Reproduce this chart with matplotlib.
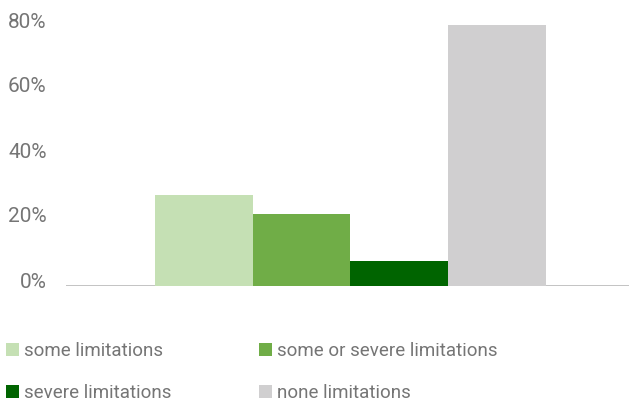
import matplotlib
matplotlib.use("Agg")
import matplotlib.pyplot as plt
from matplotlib.transforms import ScaledTranslation

categories = ["some limitations", "some or severe limitations", "severe limitations", "none limitations"]
values = [28.0, 22.1, 7.7, 80.3]
colors = ["#c5e0b4", "#70ad47", "#006400", "#d0cfd0"]
yticks = [0, 20, 40, 60, 80]
yticklabels = ["0%", "20%", "40%", "60%", "80%"]

plt.rcParams['font.family'] = ['Roboto', 'DejaVu Sans']
W, H = 629, 403
fig = plt.figure(figsize=(W / 100, H / 100), dpi=100)
ax_left, ax_right = 66, 629
y0 = 286
ymax = 82
ax_h = ymax * 3.25
ax = fig.add_axes([ax_left / W, (H - y0) / H, (ax_right - ax_left) / W, ax_h / H])

bars = []
for i, (c, v, col) in enumerate(zip(categories, values, colors)):
    b = ax.bar(i, v, width=1.0, color=col, label=c, zorder=2)
    bars.append(b)

ax.axhline(0, color="#bdbdbd", lw=2, zorder=1)
ax.set_xlim(-1.41, 4.35)
ax.set_ylim(0, ymax)
ax.set_xticks([])
ax.set_yticks(yticks)
ax.set_yticklabels(yticklabels, fontsize=15, color="#757575")
ax.tick_params(axis='y', length=0, pad=14)
off = ScaledTranslation(0, 6 / 100, fig.dpi_scale_trans)
for lab in ax.get_yticklabels():
    lab.set_transform(lab.get_transform() + off)
for s in ax.spines.values():
    s.set_visible(False)

handles = [bars[0], bars[2], bars[1], bars[3]]
labels = [categories[0], categories[2], categories[1], categories[3]]
leg = fig.legend(handles, labels, ncol=2, loc='upper left',
                 bbox_to_anchor=(6 / W, 1 - 342 / H), frameon=False,
                 borderpad=0, borderaxespad=0, fontsize=13.5,
                 handlelength=0.69, handleheight=0.69, handletextpad=0.27,
                 columnspacing=4.65, labelspacing=1.3, labelcolor="#757575")

fig.savefig("out.png", dpi=100)
